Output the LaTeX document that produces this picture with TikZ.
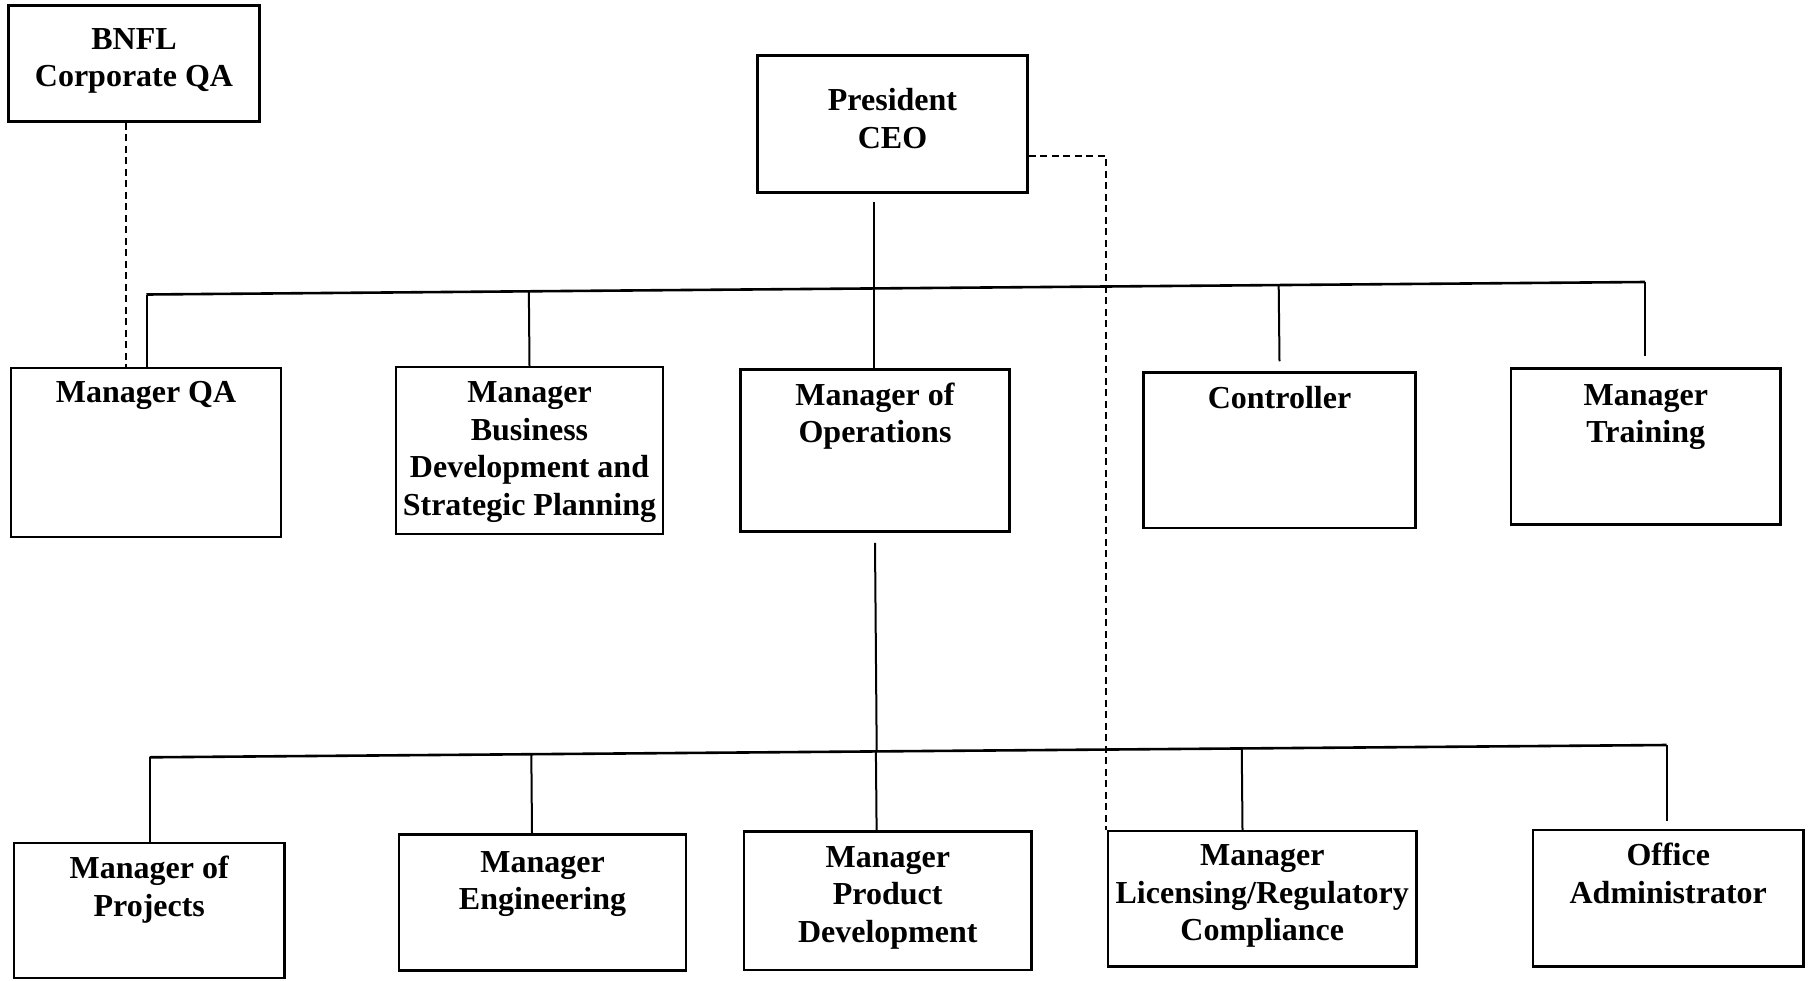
\documentclass[tikz,border=0pt]{standalone}
\usepackage{fontspec}
\setmainfont{Liberation Serif}
\usetikzlibrary{calc}
% centred stack of lines whose baseline is the first line
\newcommand\stackl[1]{\begin{tabular}[t]{@{}c@{}}#1\end{tabular}}
\begin{document}
\begin{tikzpicture}[x=1bp,y=-1bp,
  orgbox/.style={draw, line width=2.5bp, inner sep=0pt, fill=white},
  lbl/.style={anchor=base, inner sep=0pt, font=\fontsize{32bp}{37.5bp}\selectfont\bfseries},
  link/.style={line width=2bp},
  bus/.style={line width=2.6bp},
  dashlink/.style={line width=1.8bp, dash pattern=on 7bp off 4.5bp}]
\useasboundingbox[fill=white] (0,0) rectangle (1809,980);

% ---- top level
\node[orgbox, minimum width=251bp, minimum height=116bp] (bnfl) at (134,63.5) {};
\node[lbl] (bnfl-t) at (134,49) {\stackl{BNFL\\Corporate QA}};
\node[orgbox, minimum width=270bp, minimum height=137bp] (ceo) at (892.5,124) {};
\node[lbl] (ceo-t) at (892.5,110.5) {\stackl{President\\CEO}};

% ---- direct reports
\node[orgbox, minimum width=270bp, minimum height=169bp] (qa) at (146,452.5) {};
\node[lbl] (qa-t) at (146,402.5) {\stackl{Manager QA}};
\node[orgbox, minimum width=267bp, minimum height=167bp] (biz) at (529.5,450.5) {};
\node[lbl] (biz-t) at (529.5,402.5) {\stackl{Manager\\Business\\Development and\\Strategic Planning}};
\node[orgbox, minimum width=269bp, minimum height=162bp] (ops) at (875,450.5) {};
\node[lbl] (ops-t) at (875,405) {\stackl{Manager of\\Operations}};
\node[orgbox, minimum width=272bp, minimum height=155.5bp] (ctrl) at (1279.5,450.25) {};
\node[lbl] (ctrl-t) at (1279.5,408.5) {\stackl{Controller}};
\node[orgbox, minimum width=269.5bp, minimum height=156bp] (trn) at (1645.75,446.5) {};
\node[lbl] (trn-t) at (1645.75,405) {\stackl{Manager\\Training}};

% ---- operations staff
\node[orgbox, minimum width=270.5bp, minimum height=135bp] (proj) at (149.25,910.5) {};
\node[lbl] (proj-t) at (149.25,878.5) {\stackl{Manager of\\Projects}};
\node[orgbox, minimum width=287bp, minimum height=136bp] (eng) at (542.5,902.5) {};
\node[lbl] (eng-t) at (542.5,872) {\stackl{Manager\\Engineering}};
\node[orgbox, minimum width=287.5bp, minimum height=138.5bp] (prod) at (887.75,900.75) {};
\node[lbl] (prod-t) at (887.75,867) {\stackl{Manager\\Product\\Development}};
\node[orgbox, minimum width=308.5bp, minimum height=135.5bp] (lic) at (1262.25,898.75) {};
\node[lbl] (lic-t) at (1262.25,865.5) {\stackl{Manager\\Licensing/Regulatory\\Compliance}};
\node[orgbox, minimum width=270.5bp, minimum height=136.5bp] (off) at (1668.25,898.25) {};
\node[lbl] (off-t) at (1668.25,865.5) {\stackl{Office\\Administrator}};

% ---- bus lines and drop points
\coordinate (bus1L) at (146.5,294.5);
\coordinate (bus1R) at (1645.2,282);
\coordinate (bus2L) at (149.6,757.3);
\coordinate (bus2R) at (1666.7,745);
\coordinate (engD) at (532,0);
\coordinate (prodD) at (876.6,0);
\coordinate (licD) at (1242.5,0);
\coordinate (qaD) at (126,0);
\coordinate (cornerD) at (1106,0);

\draw[bus] (bus1L) -- (bus1R);
\draw[bus] (bus2L) -- (bus2R);

% president to direct reports
\draw[link] ($(ceo.south -| ops.north)+(-1,8)$) -- ([xshift=-1bp]ops.north);
\draw[link] (bus1L) -- (bus1L |- qa.north);
\draw[link] ($(bus1L)!(biz.north)!(bus1R)$) -- (biz.north);
\draw[link] ($(bus1L)!(ctrl.north)!(bus1R)$) -- ($(ctrl.north)+(0,-10)$);
\draw[link] (bus1R) -- ($(bus1R |- trn.north)+(0,-11)$);

% operations to its staff
\draw[link] ($(ops.south)+(0,10)$) -- ($(bus2L)!(ops.south)!(bus2R)$);
\draw[link] (bus2L) -- (bus2L |- proj.north);
\draw[link] ($(bus2L)!(engD |- eng.north)!(bus2R)$) -- (engD |- eng.north);
\draw[link] ($(bus2L)!(prodD |- prod.north)!(bus2R)$) -- (prodD |- prod.north);
\draw[link] ($(bus2L)!(licD |- lic.north)!(bus2R)$) -- (licD |- lic.north);
\draw[link] (bus2R) -- ($(bus2R |- off.north)+(0,-8)$);

% dotted reporting lines
\draw[dashlink] (bnfl.south -| qaD) -- (qa.north -| qaD);
\draw[dashlink] ($(ceo.east)+(0,32)$) -| (lic.north -| cornerD);
\end{tikzpicture}
\end{document}
